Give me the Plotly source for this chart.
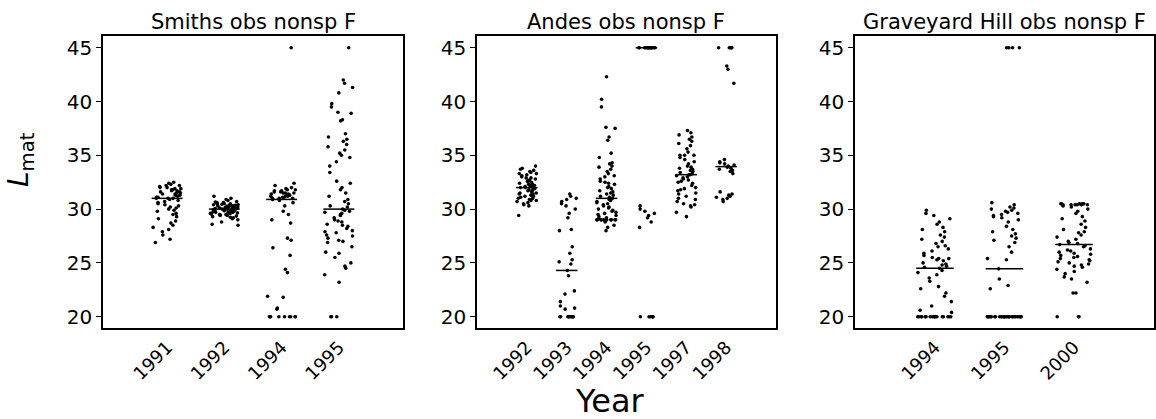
import numpy as np
import plotly.graph_objects as go

# ---- data: L_mat estimates by year for each site ----
smiths_years = ["1991", "1992", "1994", "1995"]
andes_years = ["1992", "1993", "1994", "1995", "1997", "1998"]
grave_years = ["1994", "1995", "2000"]

smiths_1991 = [31.1, 31.2, 31.3, 31.3, 31.4, 31.5, 31.5, 31.6, 31.6, 31.7, 31.8, 31.8, 31.9,
               32.0, 32.0, 32.1, 32.2, 32.2, 32.3, 32.4, 32.5, 31.1, 31.4, 31.7, 31.9,
               31.0, 31.0, 31.0,
               30.9, 30.8, 30.7, 30.6, 30.5, 30.4, 30.3, 30.2, 30.0, 29.9, 29.8, 29.6, 29.5,
               29.3, 29.1, 28.9, 28.7, 28.5, 28.3, 28.1, 27.9, 27.6, 27.2, 26.9, 30.1]
smiths_1992 = [30.1, 30.1, 30.2, 30.2, 30.2, 30.3, 30.3, 30.3, 30.4, 30.4, 30.5, 30.5, 30.6,
               30.6, 30.7, 30.8, 30.9, 31.0, 31.2, 30.1, 30.2, 30.3, 30.4, 30.5, 30.15, 30.25,
               30.35, 30.45, 30.05, 30.65,
               30.0, 30.0, 30.0, 30.0,
               29.9, 29.9, 29.8, 29.8, 29.8, 29.7, 29.7, 29.7, 29.6, 29.6, 29.5, 29.5, 29.4,
               29.4, 29.3, 29.2, 29.1, 29.0, 28.8, 28.6, 28.5, 29.95, 29.85, 29.75, 29.65,
               29.55, 29.45, 29.35, 29.25, 29.9]
smiths_1994 = [45.0, 32.4, 32.2, 32.0, 31.9, 31.8, 31.8, 31.7, 31.7, 31.6, 31.6, 31.5, 31.5,
               31.5, 31.4, 31.4, 31.3, 31.3, 31.3, 31.2, 31.2, 31.1, 31.1, 31.0, 31.0, 31.0,
               30.9,
               30.8, 30.6, 30.3, 29.8, 29.5, 29.0, 28.7, 27.3, 27.1, 26.4, 25.7, 24.4, 24.1,
               21.9, 21.8, 20.7, 20.8, 20.0, 20.0, 20.0, 20.0, 20.0, 20.0, 20.0, 20.0, 20.0]
smiths_1995 = [45.0, 42.0, 41.7, 41.3, 40.8, 39.8, 39.5, 39.0, 38.9, 38.3, 38.2, 37.0, 36.7,
               36.5, 36.3, 36.0, 35.8, 35.5, 35.2, 35.0, 34.8, 34.4, 34.0, 33.4, 32.6, 32.4,
               32.0, 31.8, 31.5, 31.2, 30.9, 30.7, 30.5, 30.3, 30.2,
               30.0,
               29.9, 29.7, 29.5, 29.2, 29.0, 28.8, 28.6, 28.4, 28.2, 28.0, 27.8, 27.6, 27.5,
               27.3, 27.1, 26.9, 26.5, 26.0, 25.5, 25.0, 24.7, 24.5, 23.9, 23.2, 20.0, 20.0,
               20.0, 29.8, 29.4, 28.9, 28.5, 27.9, 27.0, 25.9, 29.6]

andes_1992 = [34.0, 33.8, 33.6, 33.5, 33.4, 33.3, 33.2, 33.1, 33.0, 32.9, 32.8, 32.7, 32.6,
              32.5, 32.4, 32.3, 32.2, 32.1, 33.3, 32.9, 32.6, 32.3, 32.2, 32.1, 33.7,
              32.0, 32.0,
              31.9, 31.8, 31.7, 31.6, 31.5, 31.4, 31.3, 31.2, 31.1, 31.0, 30.9, 30.8, 30.7,
              30.6, 30.5, 30.4, 30.3, 29.4, 31.9, 31.7, 31.5, 31.2, 31.0, 30.8, 31.4]
andes_1993 = [31.4, 31.2, 31.0, 30.9, 30.7, 30.5, 30.3, 30.0, 29.6, 29.2, 28.1, 28.0, 26.5,
              25.9, 25.3, 25.1, 24.9,
              24.3,
              23.8, 22.4, 22.1, 21.4, 21.0, 20.7, 20.8, 20.0, 20.0, 20.0, 20.0, 20.0, 20.0,
              20.0, 20.0, 20.0, 20.0]
andes_1994 = [42.3, 40.2, 39.5, 37.6, 37.5, 36.7, 36.4, 35.2, 34.8, 34.3, 34.2, 34.0, 33.9,
              33.7, 33.5, 33.3, 33.1, 33.0, 32.8, 32.6, 32.5, 32.3, 32.1, 32.0, 31.9, 31.7,
              31.6, 31.5, 31.3, 31.2, 31.0, 30.9, 30.8, 30.6, 30.5, 30.4, 30.3, 30.1, 30.0,
              29.9, 29.8, 29.7, 29.6, 29.5, 29.4, 29.3, 29.2, 29.1,
              29.0, 29.0, 29.0, 29.0, 29.0, 29.0, 29.0, 29.0, 29.0, 29.0,
              28.8, 28.5, 28.3, 28.0, 30.2, 30.7, 31.1, 31.4, 32.4]
andes_1995 = [45.0, 45.0, 45.0, 45.0, 45.0, 45.0, 45.0, 45.0, 45.0, 45.0, 45.0, 45.0, 45.0,
              45.0, 45.0,
              30.3, 30.0, 29.8, 29.6, 29.4, 29.2, 28.8, 28.3,
              20.0, 20.0, 20.0, 20.0, 20.0, 20.0]
andes_1997 = [37.3, 37.1, 36.9, 36.7, 36.5, 36.3, 36.1, 35.9, 35.6, 35.3, 35.0, 35.0, 35.0,
              34.8, 34.6, 34.4, 34.2, 34.0, 33.9, 33.8, 33.7, 33.6, 33.5, 33.4, 33.3,
              33.2, 33.2,
              33.1, 33.0, 32.9, 32.8, 32.7, 32.5, 32.4, 32.2, 32.0, 31.9, 31.7, 31.5, 31.4,
              31.2, 31.0, 30.9, 30.7, 30.5, 30.4, 30.3, 30.2, 29.7, 29.3, 32.6, 31.8]
andes_1998 = [45.0, 45.0, 45.0, 45.0, 45.0, 43.3, 43.0, 41.7,
              34.6, 34.4, 34.3, 34.2, 34.1, 34.0, 33.9, 33.8, 33.7, 33.6, 33.5, 33.3,
              31.6, 31.4, 31.3, 31.2, 31.1, 31.0, 30.9, 30.7]

grave_1994 = [29.9, 29.6, 29.4, 29.1, 28.8, 28.6, 28.3, 28.1, 27.9, 27.6, 27.4, 27.2, 27.0,
              26.8, 26.5, 26.3, 26.1, 25.9, 25.7, 25.5, 25.4, 25.4, 25.3, 25.2, 25.0, 24.9,
              24.8, 24.7, 24.6, 26.6,
              24.5,
              24.3, 24.1, 23.9, 23.6, 23.3, 22.8, 22.6, 22.2, 21.9, 21.4, 21.0, 20.6, 20.4,
              20.0, 20.0, 20.0, 20.0, 20.0, 20.0, 20.0, 20.0, 20.0, 20.0, 20.0, 20.0, 20.0,
              20.0, 20.0, 20.0, 20.0]
grave_1995 = [45.0, 45.0, 45.0, 45.0,
              30.6, 30.4, 30.2, 30.1, 30.0, 29.9, 29.8, 29.7, 29.6, 29.5, 29.4, 29.3, 29.2,
              29.0, 28.8, 28.4, 28.1, 27.9, 27.7, 27.5, 27.3, 27.1, 26.9, 26.5, 26.0, 25.4,
              25.3,
              24.45,
              23.5, 22.9, 22.6,
              20.0, 20.0, 20.0, 20.0, 20.0, 20.0, 20.0, 20.0, 20.0, 20.0, 20.0, 20.0, 20.0,
              20.0, 20.0, 20.0, 20.0, 20.0, 20.0, 20.0, 20.0, 20.0, 20.0, 20.0, 20.0, 20.0,
              20.0, 20.0]
grave_2000 = [30.5, 30.5, 30.5, 30.5, 30.5, 30.5, 30.4, 30.4, 30.4, 30.4, 30.4, 30.4,
              30.3, 30.2, 30.0, 29.8, 29.6, 29.3, 29.1, 28.9, 28.6, 28.3, 28.1, 27.9, 27.8,
              27.6, 27.4, 27.2, 27.0, 26.9, 26.8,
              26.7,
              26.6, 26.5, 26.3, 26.1, 26.0, 25.8, 25.7, 25.5, 25.4, 25.2, 25.1, 25.0, 24.9,
              24.8, 24.6, 24.4, 24.2, 24.0, 23.7, 23.5, 23.2, 22.2, 22.2, 20.0, 20.0, 20.0,
              25.9, 25.6, 25.3, 24.7, 26.2]

y_ticks = [20, 25, 30, 35, 40, 45]

# ---- panel definitions ----
panels = [
    dict(title="Smiths obs nonsp F", years=smiths_years,
         groups=[smiths_1991, smiths_1992, smiths_1994, smiths_1995],
         xrange=[-1.12, 4.12], px=(103, 403)),
    dict(title="Andes obs nonsp F", years=andes_years,
         groups=[andes_1992, andes_1993, andes_1994, andes_1995, andes_1997, andes_1998],
         xrange=[-1.25, 6.25], px=(477, 776)),
    dict(title="Graveyard Hill obs nonsp F", years=grave_years,
         groups=[grave_1994, grave_1995, grave_2000],
         xrange=[-1.15, 3.15], px=(855, 1154)),
]

W, H = 1156, 419
PLOT_TOP, PLOT_BOTTOM = 36, 328
FONT = "DejaVu Sans"
JITTER = 0.25
MEDIAN_HALF = 0.27
PHI = 0.6180339887
RT2 = 0.4142135624

fig = go.Figure()
layout = dict(
    width=W, height=H,
    margin=dict(l=0, r=0, t=0, b=0),
    paper_bgcolor="white", plot_bgcolor="white",
    showlegend=False,
    font=dict(family=FONT, color="black"),
    annotations=[],
)
y_domain = [1 - PLOT_BOTTOM / H, 1 - PLOT_TOP / H]

for p, panel in enumerate(panels, start=1):
    xa = "x" if p == 1 else f"x{p}"
    ya = "y" if p == 1 else f"y{p}"
    for j, vals in enumerate(panel["groups"]):
        vals = np.asarray(vals, dtype=float)
        # deterministic horizontal spread (quadratic Weyl sequence) so tied
        # values stay visible without a regular pattern along sorted values
        k = np.arange(len(vals)) + 3 * j + 7 * p
        offs = (np.mod(k * k * PHI + k * RT2, 1.0) - 0.5) * 2 * JITTER
        fig.add_trace(go.Scatter(
            x=j + offs, y=vals, mode="markers", xaxis=xa, yaxis=ya,
            marker=dict(size=3.6, color="black", line=dict(width=0)),
            hoverinfo="y",
        ))
        med = float(np.median(vals))
        fig.add_trace(go.Scatter(
            x=[j - MEDIAN_HALF, j + MEDIAN_HALF], y=[med, med], mode="lines",
            xaxis=xa, yaxis=ya, line=dict(color="black", width=1.5),
            hoverinfo="skip",
        ))
    x0, x1 = panel["px"]
    axis_common = dict(showline=True, mirror=True, linecolor="black", linewidth=1.5,
                       showgrid=False, zeroline=False)
    layout["xaxis" if p == 1 else f"xaxis{p}"] = dict(
        domain=[x0 / W, x1 / W], range=panel["xrange"], anchor=ya,
        tickmode="array", tickvals=list(range(len(panel["years"]))),
        ticktext=panel["years"], tickangle=-45, ticks="",
        tickfont=dict(family=FONT, size=18, color="black"),
        **axis_common,
    )
    layout["yaxis" if p == 1 else f"yaxis{p}"] = dict(
        domain=y_domain, range=[18.95, 46.09], anchor=xa,
        tickmode="array", tickvals=y_ticks, ticks="outside", ticklen=5, tickwidth=1,
        tickcolor="black",
        tickfont=dict(family=FONT, size=20, color="black"),
        **axis_common,
    )
    layout["annotations"].append(dict(
        text=panel["title"], xref="paper", yref="paper",
        x=(x0 + x1) / 2 / W, y=1 - 22.5 / H, xanchor="center", yanchor="middle",
        showarrow=False, font=dict(family=FONT, size=21, color="black"),
    ))

layout["annotations"].append(dict(
    text="Year", xref="paper", yref="paper", x=610 / W, y=1 - 401 / H,
    xanchor="center", yanchor="middle", showarrow=False,
    font=dict(family=FONT, size=32, color="black"),
))
layout["annotations"].append(dict(
    text="<i>L</i><sub>mat</sub>", xref="paper", yref="paper", x=21 / W, y=1 - 160 / H,
    xanchor="center", yanchor="middle", textangle=-90, showarrow=False,
    font=dict(family=FONT, size=28, color="black"),
))

fig.update_layout(**layout)
fig.write_html("out.html")
